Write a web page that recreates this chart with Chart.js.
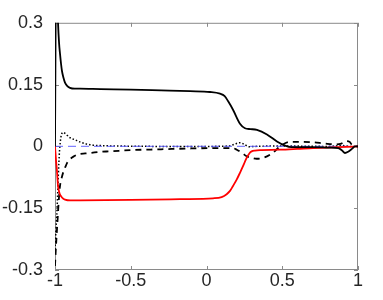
<!DOCTYPE html>
<html>
<head>
<meta charset="utf-8">
<script src="https://cdn.jsdelivr.net/npm/chart.js@4"></script>
<style>
  html, body { margin: 0; padding: 0; background: #fff; }
  canvas { display: block; }
</style>
</head>
<body>
<canvas id="chart" width="383" height="300"></canvas>
<script>
// ========== DATA ========== //
const xTicks = [-1, -0.5, 0, 0.5, 1];
const yTicks = [-0.3, -0.15, 0, 0.15, 0.3];

// solid black
const xSolid = [-1, -0.992, -0.985, -0.98, -0.973, -0.967, -0.96, -0.954, -0.945, -0.934, -0.92, -0.901, -0.87, -0.835, -0.7, -0.5, -0.3, -0.109, 0.023, 0.089, 0.12, 0.142, 0.175, 0.221, 0.254, 0.29, 0.333, 0.399, 0.465, 0.518, 0.56, 0.617, 0.7, 0.815, 0.87, 0.895, 0.914, 0.935, 0.96, 0.98, 1];
const ySolid = [0, 0.45, 0.36, 0.3, 0.25, 0.225, 0.2, 0.183, 0.168, 0.155, 0.147, 0.142, 0.14, 0.14, 0.139, 0.138, 0.136, 0.134, 0.132, 0.128, 0.122, 0.11, 0.089, 0.055, 0.044, 0.042, 0.04, 0.029, 0.012, 0.002, -0.002, -0.002, -0.002, -0.003, -0.004, -0.01, -0.016, -0.013, -0.006, 0, 0];

// solid red
const xRed = [-1, -0.993, -0.987, -0.98, -0.973, -0.967, -0.96, -0.954, -0.945, -0.934, -0.9, -0.835, -0.5, -0.175, 0.043, 0.1, 0.133, 0.155, 0.175, 0.2, 0.221, 0.241, 0.265, 0.285, 0.298, 0.32, 0.364, 0.485, 0.6, 0.703, 0.8, 0.925, 1];
const yRed = [0, -0.035, -0.06, -0.096, -0.11, -0.117, -0.121, -0.124, -0.127, -0.129, -0.131, -0.131, -0.13, -0.128, -0.126, -0.123, -0.116, -0.108, -0.096, -0.08, -0.064, -0.048, -0.028, -0.016, -0.012, -0.01, -0.009, -0.008, -0.006, -0.004, -0.003, -0.001, 0];

// dashed black
const xDash = [-1, -0.996, -0.99, -0.985, -0.98, -0.975, -0.967, -0.955, -0.945, -0.934, -0.92, -0.901, -0.875, -0.846, -0.8, -0.769, -0.7, -0.637, -0.5, -0.3, -0.1, 0.1, 0.17, 0.2, 0.235, 0.265, 0.3, 0.331, 0.38, 0.419, 0.45, 0.472, 0.5, 0.551, 0.62, 0.703, 0.78, 0.848, 0.89, 0.925, 0.945, 0.958, 0.98, 1];
const yDash = [-0.29, -0.26, -0.22, -0.19, -0.16, -0.13, -0.096, -0.075, -0.062, -0.052, -0.04, -0.031, -0.024, -0.019, -0.017, -0.016, -0.013, -0.012, -0.009, -0.007, -0.005, -0.004, -0.004, -0.008, -0.016, -0.024, -0.028, -0.03, -0.027, -0.02, -0.012, -0.004, 0.004, 0.011, 0.011, 0.01, 0.007, 0.005, 0.007, 0.013, 0.011, 0.005, 0.001, 0];

// dotted black
const xDot = [-1, -0.993, -0.985, -0.978, -0.97, -0.962, -0.955, -0.945, -0.935, -0.92, -0.9, -0.868, -0.83, -0.79, -0.75, -0.703, -0.6, -0.3, 0, 0.15, 0.19, 0.221, 0.25, 0.28, 0.32, 0.5, 0.8, 0.9, 0.95, 1];
const yDot = [-0.25, -0.2, -0.14, -0.07, -0.01, 0.02, 0.031, 0.034, 0.032, 0.027, 0.021, 0.016, 0.01, 0.0055, 0.003, 0.002, 0.001, 0, 0, 0.001, 0.006, 0.009, 0.005, -0.001, 0, 0.001, 0, 0.002, 0, 0];

// dashed blue reference
const xBlue = [-1, 1];
const yBlue = [0, 0];

// ========== HELPERS ========== //
const pts = (xs, ys) => xs.map((x, i) => ({ x: x, y: ys[i] }));
const tickFont = { family: '"Liberation Sans", Arial, sans-serif', size: 18 };
const tickColor = '#262626';

// box + inward tick marks, MATLAB style
const boxPlugin = {
    id: 'box',
    beforeDatasetsDraw(chart) {
        const { ctx, chartArea: a, scales } = chart;
        ctx.save();
        ctx.strokeStyle = '#8a8a8a';
        ctx.lineWidth = 1;
        ctx.strokeRect(a.left + 0.5, a.top + 0.5, a.right - a.left - 1, a.bottom - a.top - 1);
        ctx.beginPath();
        xTicks.forEach(v => {
            const px = Math.round(scales.x.getPixelForValue(v)) + 0.5;
            ctx.moveTo(px, a.bottom); ctx.lineTo(px, a.bottom - 4);
            ctx.moveTo(px, a.top); ctx.lineTo(px, a.top + 4);
        });
        yTicks.forEach(v => {
            const py = Math.round(scales.y.getPixelForValue(v)) + 0.5;
            ctx.moveTo(a.left, py); ctx.lineTo(a.left + 4, py);
            ctx.moveTo(a.right, py); ctx.lineTo(a.right - 4, py);
        });
        ctx.stroke();
        ctx.restore();
    }
};

// ========== CHART ========== //
new Chart(document.getElementById('chart'), {
    type: 'line',
    data: {
        datasets: [
            { data: pts(xSolid, ySolid), borderColor: '#000', borderWidth: 1.8, order: 1 },
            { data: pts(xRed, yRed), borderColor: '#ff0000', borderWidth: 1.8, order: 2 },
            { data: pts(xBlue, yBlue), borderColor: 'rgba(90,90,255,0.75)', borderWidth: 1.2, borderDash: [8, 5], order: 3 },
            { data: pts(xDash, yDash), borderColor: '#000', borderWidth: 1.8, borderDash: [6, 5], order: 4 },
            { data: pts(xDot, yDot), borderColor: '#000', borderWidth: 1.5, borderDash: [1.5, 2], order: 5 }
        ]
    },
    options: {
        responsive: false,
        animation: false,
        devicePixelRatio: 1,
        cubicInterpolationMode: 'monotone',
        elements: { point: { radius: 0 }, line: { cubicInterpolationMode: 'monotone' } },
        layout: { padding: { top: 20, right: 25, left: 0, bottom: 0 } },
        plugins: { legend: { display: false }, tooltip: { enabled: false } },
        scales: {
            x: {
                type: 'linear', min: -1, max: 1,
                afterBuildTicks: s => { s.ticks = xTicks.map(v => ({ value: v })); },
                afterFit: s => { s.height = 30; },
                ticks: { callback: v => String(v), font: tickFont, color: tickColor, padding: 0, maxRotation: 0, autoSkip: false },
                grid: { display: false, drawTicks: false },
                border: { display: false }
            },
            y: {
                type: 'linear', min: -0.3, max: 0.3,
                afterBuildTicks: s => { s.ticks = yTicks.map(v => ({ value: v })); },
                afterFit: s => { s.width = 55; },
                ticks: { callback: v => String(v), font: tickFont, color: tickColor, padding: 12, autoSkip: false },
                grid: { display: false, drawTicks: false },
                border: { display: false }
            }
        }
    },
    plugins: [boxPlugin]
});
</script>
</body>
</html>
